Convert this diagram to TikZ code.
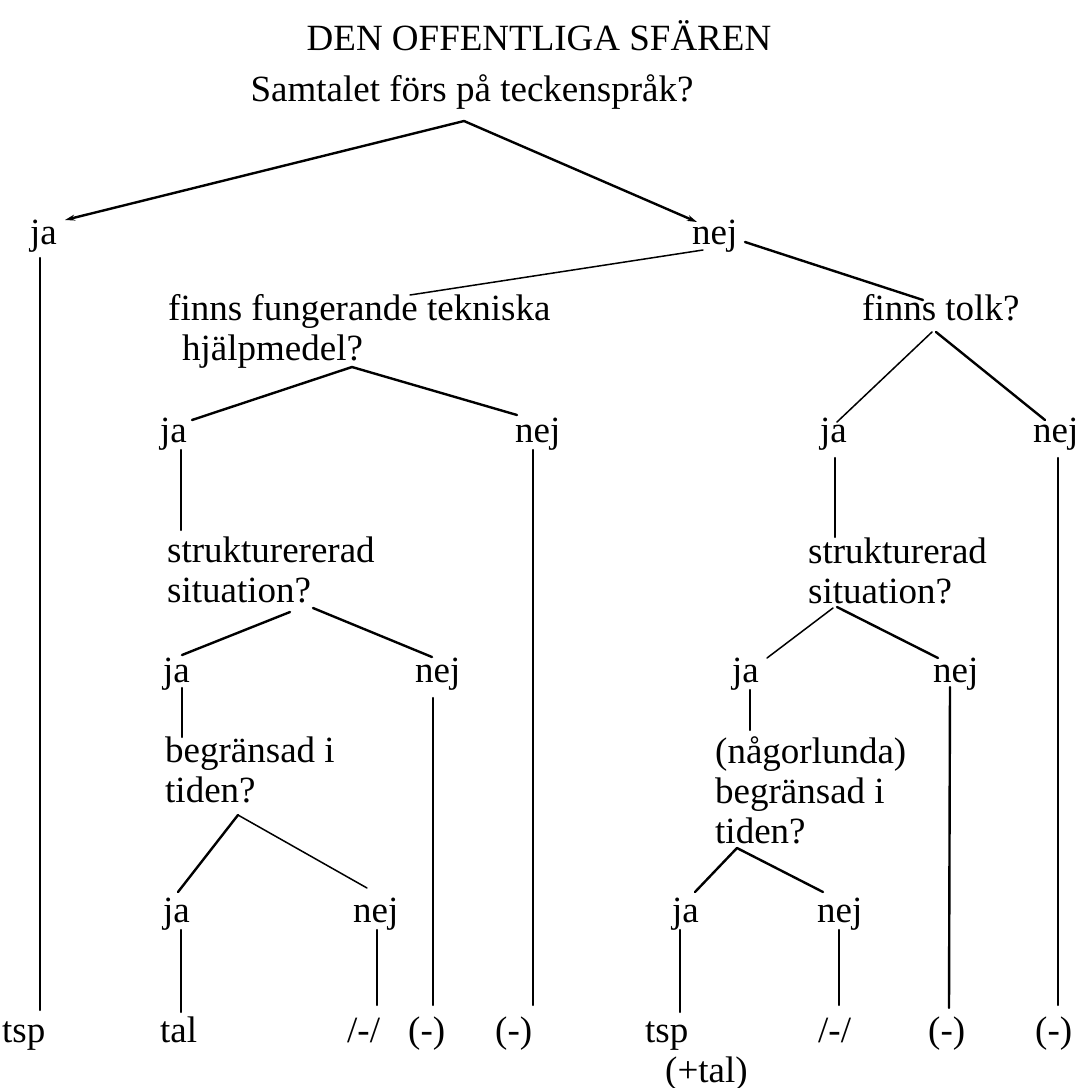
\documentclass[tikz,border=0pt]{standalone}
\usepackage{fontspec}
\setmainfont{Liberation Serif}
\usetikzlibrary{arrows.meta}
\newcommand\mlines[1]{\vtop{\baselineskip=40pt\lineskiplimit=-100pt #1}}
\begin{document}
\begin{tikzpicture}[x=1pt,y=-1pt,
  lbl/.style={inner sep=0pt, anchor=base west, font=\fontsize{37}{40}\selectfont},
  edge/.style={line width=2.4pt, line cap=round},
  thinedge/.style={line width=1.5pt, line cap=round},
  arr/.style={-{Stealth[length=10pt,width=6pt]}}]
\useasboundingbox (0,0) rectangle (1079,1088);
% texts
\node[lbl, anchor=base] (title) at (539,50) {DEN OFFENTLIGA SFÄREN};
\node[lbl, anchor=base] (q0) at (472,101) {Samtalet förs på teckenspråk?};
\node[lbl] (ja1) at (30,244) {ja};
\node[lbl] (nej1) at (692,244) {nej};
\node[lbl] (q1) at (168,320) {\mlines{\hbox{finns fungerande tekniska}\hbox{\hspace{14pt}hjälpmedel?}}};
\node[lbl] (q2) at (862,320) {finns tolk?};
\node[lbl] (ja2) at (160,442) {ja};
\node[lbl] (nej2) at (515,442) {nej};
\node[lbl] (ja3) at (820,442) {ja};
\node[lbl] (nej3) at (1033,442) {nej};
\node[lbl] (q3) at (167,562) {\mlines{\hbox{strukturererad}\hbox{situation?}}};
\node[lbl] (q4) at (808,563) {\mlines{\hbox{strukturerad}\hbox{situation?}}};
\node[lbl] (ja4) at (163,682) {ja};
\node[lbl] (nej4) at (415,682) {nej};
\node[lbl] (ja5) at (732,682) {ja};
\node[lbl] (nej5) at (933,682) {nej};
\node[lbl] (q5) at (165,762) {\mlines{\hbox{begränsad i}\hbox{tiden?}}};
\node[lbl] (q6) at (715,763) {\mlines{\hbox{(någorlunda)}\hbox{begränsad i}\hbox{tiden?}}};
\node[lbl] (ja6) at (163,922) {ja};
\node[lbl] (nej6) at (353,922) {nej};
\node[lbl] (ja7) at (672,922) {ja};
\node[lbl] (nej7) at (817,922) {nej};
\node[lbl] (r1) at (2,1042) {tsp};
\node[lbl] (r2) at (160,1042) {tal};
\node[lbl] (r3) at (347,1042) {/-/};
\node[lbl] (r4) at (408,1042) {(-)};
\node[lbl] (r5) at (495,1042) {(-)};
\node[lbl] (r6) at (645,1042) {\mlines{\hbox{tsp}\hbox{\hspace{20pt}(+tal)}}};
\node[lbl] (r7) at (818,1042) {/-/};
\node[lbl] (r8) at (928,1042) {(-)};
\node[lbl] (r9) at (1035,1042) {(-)};
% level 0
\draw[edge,arr] ([shift={(-8,20)}]q0.base) -- ([shift={(35,-24)}]ja1.base west);
\draw[edge,arr] ([shift={(-8,20)}]q0.base) -- ([shift={(5,-22)}]nej1.base west);
% level 1
\draw[thinedge] ([shift={(11,6)}]nej1.base west) -- ([shift={(242,-25)}]q1.base west);
\draw[edge] ([shift={(53,-2)}]nej1.base west) -- ([shift={(61,-20)}]q2.base west);
\draw[edge] ([shift={(10,14)}]ja1.base west) -- ([shift={(38,-32)}]r1.base west);
% under q1
\draw[edge] ([shift={(184,47)}]q1.base west) -- ([shift={(32,-22)}]ja2.base west);
\draw[edge] ([shift={(184,47)}]q1.base west) -- ([shift={(2,-27)}]nej2.base west);
\draw[edge] ([shift={(21,8)}]ja2.base west) -- ([shift={(14,-32)}]q3.base west);
\draw[edge] ([shift={(18,8)}]nej2.base west) -- ([shift={(38,-37)}]r5.base west);
% under q2
\draw[thinedge] ([shift={(70,12)}]q2.base west) -- ([shift={(17,-20)}]ja3.base west);
\draw[edge] ([shift={(74,12)}]q2.base west) -- ([shift={(12,-22)}]nej3.base west);
\draw[edge] ([shift={(15,16)}]ja3.base west) -- ([shift={(27,-26)}]q4.base west);
\draw[edge] ([shift={(25,16)}]nej3.base west) -- ([shift={(23,-37)}]r9.base west);
% under q3
\draw[edge] ([shift={(123,50)}]q3.base west) -- ([shift={(19,-27)}]ja4.base west);
\draw[edge] ([shift={(146,46)}]q3.base west) -- ([shift={(17,-25)}]nej4.base west);
\draw[edge] ([shift={(19,6)}]ja4.base west) -- ([shift={(17,-25)}]q5.base west);
\draw[edge] ([shift={(18,16)}]nej4.base west) -- ([shift={(25,-37)}]r4.base west);
% under q4
\draw[thinedge] ([shift={(25,45)}]q4.base west) -- ([shift={(35,-24)}]ja5.base west);
\draw[edge] ([shift={(29,44)}]q4.base west) -- ([shift={(5,-24)}]nej5.base west);
\draw[edge] ([shift={(18,8)}]ja5.base west) -- ([shift={(35,-33)}]q6.base west);
\draw[edge] ([shift={(17,5)}]nej5.base west) -- ([shift={(21,-34)}]r8.base west);
% under q5
\draw[edge] ([shift={(73,53)}]q5.base west) -- ([shift={(15,-30)}]ja6.base west);
\draw[thinedge] ([shift={(73,53)}]q5.base west) -- ([shift={(14,-34)}]nej6.base west);
\draw[edge] ([shift={(18,8)}]ja6.base west) -- ([shift={(21,-30)}]r2.base west);
\draw[edge] ([shift={(24,8)}]nej6.base west) -- ([shift={(30,-37)}]r3.base west);
% under q6
\draw[edge] ([shift={(22,85)}]q6.base west) -- ([shift={(23,-30)}]ja7.base west);
\draw[edge] ([shift={(22,85)}]q6.base west) -- ([shift={(6,-30)}]nej7.base west);
\draw[edge] ([shift={(8,8)}]ja7.base west) -- ([shift={(35,-30)}]r6.base west);
\draw[edge] ([shift={(22,8)}]nej7.base west) -- ([shift={(21,-37)}]r7.base west);
\end{tikzpicture}
\end{document}
